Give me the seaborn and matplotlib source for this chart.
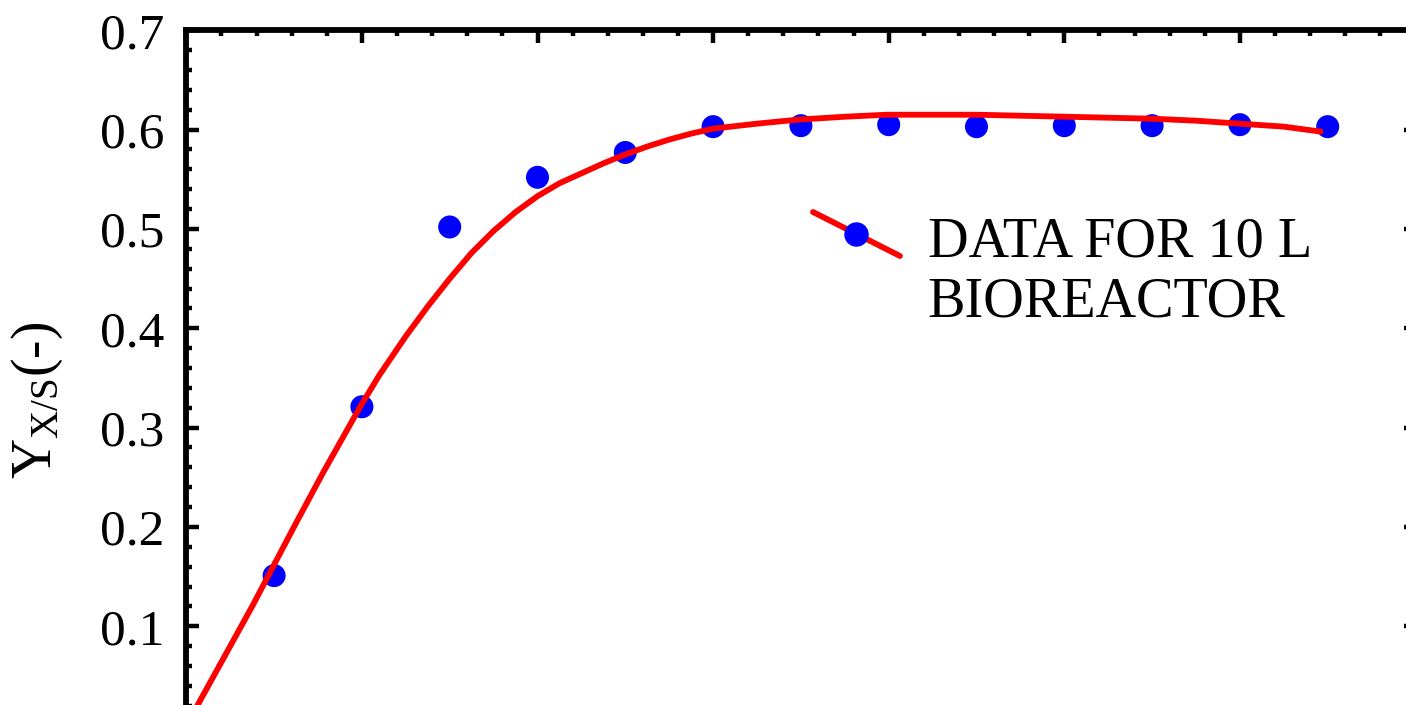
import numpy as np
import pandas as pd
import seaborn as sns
import matplotlib
matplotlib.use("Agg")
import matplotlib.pyplot as plt
from matplotlib.lines import Line2D
from matplotlib.legend_handler import HandlerBase
from matplotlib.ticker import MultipleLocator

# ---- data ----
time_pts = [5, 10, 15, 20, 25, 30, 35, 40, 45, 50, 55, 60, 65]
yield_pts = [0.151, 0.321, 0.502, 0.552, 0.577, 0.603, 0.604, 0.605,
             0.603, 0.604, 0.604, 0.605, 0.603]

fit_x = [0.0, 1.25, 2.5, 3.75, 4.94, 6.25, 7.8, 9.9, 11.0, 12.5, 13.75, 15.0,
         16.25, 17.5, 18.75, 20.0, 21.25, 22.5, 23.75, 25.0, 26.25, 27.5,
         28.75, 30.0, 32.5, 34.8, 37.5, 39.9, 42.5, 45.0, 47.5, 50.1, 52.5,
         55.0, 57.5, 60.0, 62.5, 64.6]
fit_y = [0.0, 0.040, 0.080, 0.120, 0.160, 0.204, 0.255, 0.321, 0.353, 0.392,
         0.422, 0.450, 0.476, 0.498, 0.517, 0.533, 0.546, 0.556, 0.566, 0.575,
         0.583, 0.590, 0.596, 0.601, 0.606, 0.610, 0.613, 0.615, 0.615, 0.615,
         0.614, 0.613, 0.612, 0.611, 0.609, 0.606, 0.603, 0.598]

y_ticks = [0.1, 0.2, 0.3, 0.4, 0.5, 0.6, 0.7]
legend_label = "DATA FOR 10 L\nBIOREACTOR"
y_label = r"Y$_{\mathrm{X/S}}$(-)"

pts = pd.DataFrame({"t": time_pts, "y": yield_pts})
fit = pd.DataFrame({"t": fit_x, "y": fit_y})

sns.set_theme(style="ticks")
plt.rcParams["font.family"] = ["Liberation Serif", "DejaVu Serif"]
plt.rcParams["mathtext.fontset"] = "custom"
plt.rcParams["mathtext.rm"] = "Liberation Serif"
plt.rcParams["mathtext.it"] = "Liberation Serif:italic"
for k in ["text.color", "axes.labelcolor", "xtick.color", "ytick.color",
          "xtick.labelcolor", "ytick.labelcolor", "axes.edgecolor"]:
    plt.rcParams[k] = "black"

FS = 37
LFS = 40.5

fig = plt.figure(figsize=(14.06, 7.05), dpi=100)
ax = fig.add_axes([186.3 / 1406, 1 - 725.6 / 705, 1229.2 / 1406, (725.6 - 30.3) / 705])

sns.scatterplot(data=pts, x="t", y="y", ax=ax, color="#0000ff", s=275,
                edgecolor="none", zorder=3, legend=False)
sns.lineplot(data=fit, x="t", y="y", ax=ax, color="#ff0000", lw=4.2,
             zorder=4, legend=False, sort=False)

ax.set_xlim(0, 70)
ax.set_ylim(0, 0.7)
ax.xaxis.set_major_locator(MultipleLocator(10))
ax.xaxis.set_minor_locator(MultipleLocator(2))
ax.set_yticks(y_ticks)
ax.yaxis.set_minor_locator(MultipleLocator(0.02))
ax.set_yticklabels([f"{v:.1f}" for v in y_ticks])

for s in ax.spines.values():
    s.set_linewidth(4.2)
    s.set_color("black")

ax.tick_params(which="both", direction="in", top=True, right=True,
               bottom=True, left=True, labelbottom=False, color="black")
ax.tick_params(which="major", length=9, width=3.2, labelsize=FS, pad=16,
               labelcolor="black")
ax.tick_params(which="minor", length=4, width=3.2)

ax.set_xlabel("")
ax.set_ylabel(y_label, fontsize=40, color="black")
ax.yaxis.set_label_coords(-0.0984, 0.468)


class DiagonalHandler(HandlerBase):
    def create_artists(self, legend, orig_handle, xdescent, ydescent,
                       width, height, fontsize, trans):
        x0 = -xdescent
        x1 = -xdescent + width
        yc = -ydescent + height / 2 + 0.69 * fontsize
        dy = 0.253 * width
        line = Line2D([x0, x1], [yc + dy, yc - dy], color="#ff0000", lw=4.2,
                      transform=trans)
        dot = Line2D([(x0 + x1) / 2], [yc], marker="o", ms=16.6,
                     color="#0000ff", ls="none", transform=trans)
        return [line, dot]


proxy = Line2D([], [])
leg = ax.legend([proxy], [legend_label], handler_map={Line2D: DiagonalHandler()},
                loc="upper left", bbox_to_anchor=(813 / 1406, 1 - 216.5 / 705),
                bbox_transform=fig.transFigure, frameon=False, fontsize=LFS,
                borderpad=0, borderaxespad=0, handlelength=1.546,
                handletextpad=0.49)
for t in leg.get_texts():
    t.set_color("black")

fig.savefig("out.png", dpi=100)
